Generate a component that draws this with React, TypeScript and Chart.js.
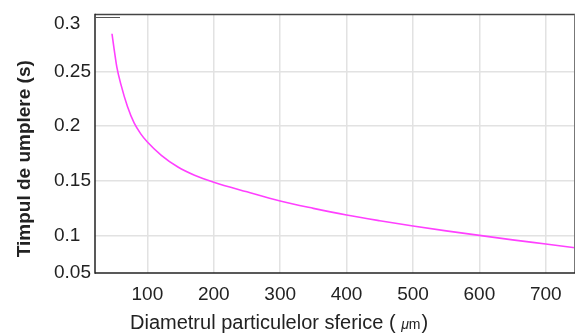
import React, { useEffect, useRef } from 'react';
import { Chart, registerables } from 'chart.js';

Chart.register(...registerables);

// Data
const diameters = [46.7, 50, 54, 60, 70, 80, 90, 100, 121, 146, 171, 200, 250, 300, 350, 400, 450, 500, 550, 600, 650, 700, 744];
const fillTimes = [0.2845, 0.27, 0.254, 0.2385, 0.218, 0.203, 0.193, 0.1855, 0.1734, 0.1627, 0.1552, 0.1488, 0.14, 0.1316, 0.1249, 0.1188, 0.1136, 0.1088, 0.1043, 0.1002, 0.0961, 0.0923, 0.0889];

const xTicks = [100, 200, 300, 400, 500, 600, 700];
const yTicks = [0.1, 0.15, 0.2, 0.25];
const yBottomLabel = '0.05';
const yTopLabel = '0.3';
const yTopMark = 0.3;

const xTitleMain = 'Diametrul particulelor sferice (';
const xTitleMu = 'μ';
const xTitleUnit = 'm';
const xTitleEnd = ')';
const yTitle = 'Timpul de umplere (s)';

const X_MIN = 21.1;
const X_MAX = 744;
const Y_MIN = 0.0658;
const Y_MAX = 0.3022;
const Y_TOP_LABEL_AT = 0.294;

const FONT = '"Liberation Sans", Arial, sans-serif';
const GRID = '#e2e2e2';

const framePlugin = {
  id: 'frameAndTitles',
  afterDraw(chart: any) {
    const { ctx, chartArea, scales } = chart;
    const { left, right, top, bottom } = chartArea;
    const line = (x1: number, y1: number, x2: number, y2: number) => {
      ctx.beginPath();
      ctx.moveTo(x1, y1);
      ctx.lineTo(x2, y2);
      ctx.stroke();
    };
    ctx.save();
    ctx.strokeStyle = '#444';
    ctx.lineWidth = 1.5;
    line(left, top, right, top);
    ctx.strokeStyle = '#777';
    ctx.lineWidth = 1;
    line(right - 0.5, top, right - 0.5, bottom);
    ctx.strokeStyle = '#222';
    ctx.lineWidth = 1.5;
    line(left, top - 0.75, left, bottom + 0.75);
    line(left, bottom, right, bottom);
    const y3 = scales.y.getPixelForValue(yTopMark);
    ctx.strokeStyle = '#555';
    ctx.lineWidth = 1;
    line(left, Math.round(y3) + 0.5, left + 25, Math.round(y3) + 0.5);

    // y title
    ctx.fillStyle = '#222';
    ctx.save();
    ctx.translate(left - 70, (top + bottom) / 2 + 15);
    ctx.rotate(-Math.PI / 2);
    ctx.font = 'bold 19px ' + FONT;
    ctx.textAlign = 'center';
    ctx.textBaseline = 'middle';
    ctx.fillText(yTitle, 0, 0);
    ctx.restore();

    // x title
    const baseY = bottom + 56;
    let x = left + 35;
    ctx.textAlign = 'left';
    ctx.textBaseline = 'alphabetic';
    ctx.font = '20px ' + FONT;
    ctx.fillText(xTitleMain, x, baseY);
    x += ctx.measureText(xTitleMain + ' ').width;
    ctx.font = 'italic 14px ' + FONT;
    ctx.fillText(xTitleMu, x, baseY);
    x += ctx.measureText(xTitleMu).width;
    ctx.font = '14px ' + FONT;
    ctx.fillText(xTitleUnit, x, baseY);
    x += ctx.measureText(xTitleUnit).width + 1;
    ctx.font = '20px ' + FONT;
    ctx.fillText(xTitleEnd, x, baseY);
    ctx.restore();
  },
};

export default function App() {
  const ref = useRef<HTMLCanvasElement>(null);
  useEffect(() => {
    if (!ref.current) return;
    const points = diameters.map((d, i) => ({ x: d, y: fillTimes[i] }));
    const chart = new Chart(ref.current, {
      type: 'line',
      data: {
        datasets: [
          {
            data: points,
            borderColor: '#ff40ff',
            borderWidth: 1.6,
            pointRadius: 0,
            cubicInterpolationMode: 'monotone',
            fill: false,
          },
        ],
      },
      options: {
        animation: false,
        responsive: false,
        layout: { padding: { top: 13, right: 1, left: 54, bottom: 0 } },
        plugins: { legend: { display: false }, tooltip: { enabled: false } },
        scales: {
          x: {
            type: 'linear',
            min: X_MIN,
            max: X_MAX,
            afterBuildTicks: (s: any) => {
              s.ticks = xTicks.map((v) => ({ value: v }));
            },
            afterFit: (s: any) => {
              s.height = 60;
            },
            grid: { color: GRID, lineWidth: 1.5, drawTicks: false },
            border: { display: false },
            ticks: {
              padding: 10,
              autoSkip: false,
              maxRotation: 0,
              color: '#222',
              font: { family: FONT, size: 19 },
              callback: (v: any) => String(v),
            },
          },
          y: {
            type: 'linear',
            min: Y_MIN,
            max: Y_MAX,
            afterBuildTicks: (s: any) => {
              s.ticks = [Y_MIN, ...yTicks, Y_TOP_LABEL_AT].map((v) => ({ value: v }));
            },
            afterFit: (s: any) => {
              s.width = 41;
            },
            grid: {
              color: (c: any) =>
                c.tick && (c.tick.value === Y_MIN || c.tick.value === Y_TOP_LABEL_AT) ? 'rgba(0,0,0,0)' : GRID,
              lineWidth: 1.5,
              drawTicks: false,
            },
            border: { display: false },
            ticks: {
              padding: 3,
              crossAlign: 'far',
              autoSkip: false,
              color: '#222',
              font: { family: FONT, size: 19 },
              callback: (v: any) => {
                if (v === Y_MIN) return yBottomLabel;
                if (v === Y_TOP_LABEL_AT) return yTopLabel;
                return String(v);
              },
            },
          },
        },
      },
      plugins: [framePlugin],
    } as any);
    return () => chart.destroy();
  }, []);
  return (
    <div style={{ position: 'fixed', left: 0, top: 0, width: 576, height: 333, background: '#fff' }}>
      <canvas ref={ref} width={576} height={333} style={{ display: 'block' }} />
    </div>
  );
}
